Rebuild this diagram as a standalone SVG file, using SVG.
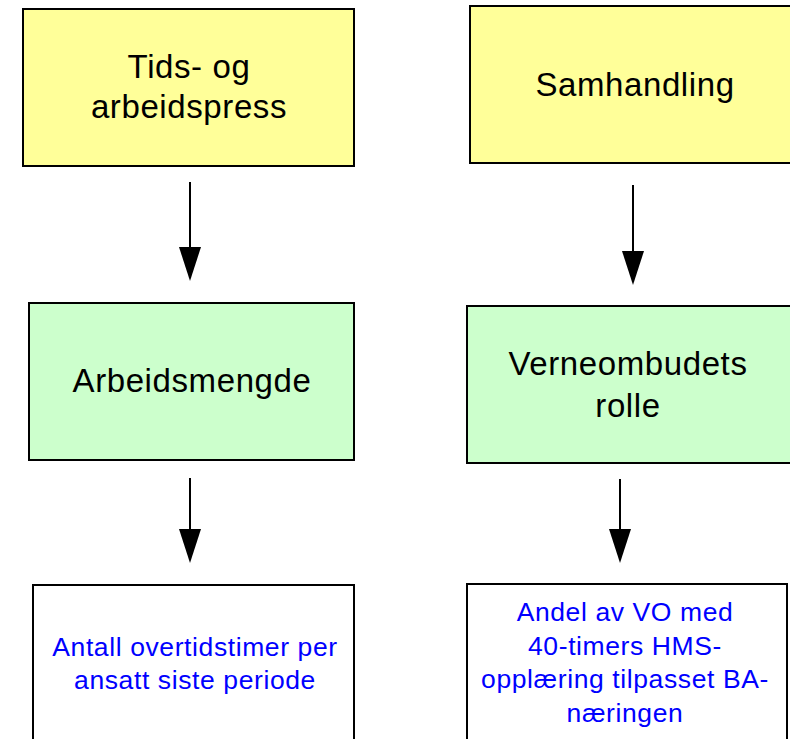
<svg xmlns="http://www.w3.org/2000/svg" width="790" height="739" viewBox="0 0 790 739">
<defs>
<style>
.box{stroke:#000;stroke-width:2}
.y{fill:#FFFF99}
.g{fill:#CCFFCC}
.w{fill:#FFFFFF}
.t{font-family:"Liberation Sans",Arial,sans-serif;font-size:33px;letter-spacing:0.6px;fill:#000;text-anchor:middle}
.b{font-family:"Liberation Sans",Arial,sans-serif;font-size:26.5px;letter-spacing:0.6px;fill:#0000FF;text-anchor:middle}
.c{stroke:#000;stroke-width:2;fill:none}
.h{fill:#000}
</style>
</defs>
<rect width="790" height="739" fill="#FFFFFF"/>
<g id="n1"><rect class="box y" x="23" y="9" width="331" height="157"/>
<text class="t" x="189" y="78">Tids- og</text><text class="t" x="189" y="118">arbeidspress</text></g>
<g id="n2"><rect class="box y" x="470" y="6" width="330" height="157"/>
<text class="t" x="635" y="96">Samhandling</text></g>
<g id="n3"><rect class="box g" x="29" y="303" width="325" height="157"/>
<text class="t" x="192" y="392">Arbeidsmengde</text></g>
<g id="n4"><rect class="box g" x="467" y="306" width="330" height="157"/>
<text class="t" x="628" y="375">Verneombudets</text><text class="t" x="628" y="417">rolle</text></g>
<g id="n5"><rect class="box w" x="33" y="585" width="321" height="170"/>
<text class="b" x="195" y="656">Antall overtidstimer per</text><text class="b" x="195" y="689">ansatt siste periode</text></g>
<g id="n6"><rect class="box w" x="467" y="584" width="320" height="170"/>
<text class="b" x="625" y="621">Andel av VO med</text><text class="b" x="625" y="655">40-timers HMS-</text><text class="b" x="625" y="688">opplæring tilpasset BA-</text><text class="b" x="625" y="722">næringen</text></g>
<g id="connectors">
<line class="c" x1="190" y1="182" x2="190" y2="250"/><polygon class="h" points="179,247 201,247 190,281"/>
<line class="c" x1="633" y1="185" x2="633" y2="254"/><polygon class="h" points="622,251 644,251 633,285"/>
<line class="c" x1="190" y1="478" x2="190" y2="532"/><polygon class="h" points="179,529 201,529 190,563"/>
<line class="c" x1="620" y1="479" x2="620" y2="532"/><polygon class="h" points="609,529 631,529 620,563"/>
</g>
</svg>
